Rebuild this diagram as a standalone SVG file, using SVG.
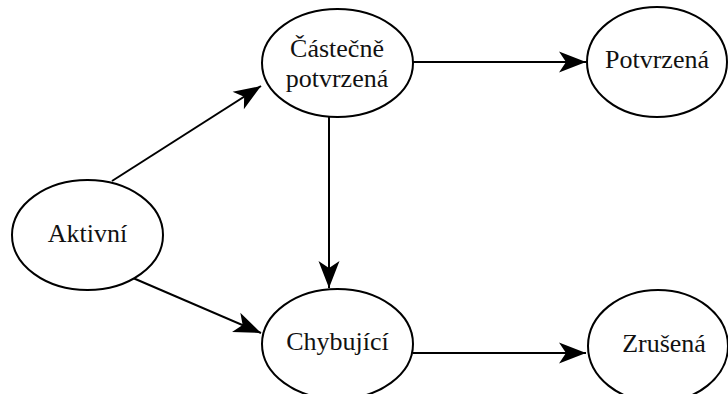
<svg xmlns="http://www.w3.org/2000/svg" width="728" height="394" viewBox="0 0 728 394">
<style>
.node ellipse{fill:#fff;stroke:#000;stroke-width:2}
.node text{font-family:"Liberation Serif","Times New Roman",serif;font-size:26px;fill:#111;text-anchor:middle}
.edge{stroke:#000;stroke-width:2;fill:none;marker-end:url(#arr)}
</style>
<defs>
<marker id="arr" viewBox="-28 -11 29 22" markerWidth="29" markerHeight="22" refX="0" refY="0" orient="auto" markerUnits="userSpaceOnUse">
<path d="M0,0 L-27,-10.5 L-20,0 L-27,10.5 Z" fill="#000"/>
</marker>
</defs>
<rect width="728" height="394" fill="#fff"/>
<g id="connectors">
<line class="edge" x1="112" y1="181" x2="261" y2="86"/>
<line class="edge" x1="133" y1="278" x2="261" y2="333"/>
<line class="edge" x1="329" y1="117" x2="329" y2="288"/>
<line class="edge" x1="413" y1="62" x2="586" y2="62"/>
<line class="edge" x1="413" y1="353" x2="586" y2="353"/>
</g>
<g id="aktivni" class="node">
<ellipse cx="87.5" cy="235" rx="75.5" ry="55"/>
<text x="87.5" y="242">Aktivní</text>
</g>
<g id="castecne" class="node">
<ellipse cx="337.5" cy="63" rx="75.5" ry="54"/>
<text x="337" y="57">Částečně</text>
<text x="337" y="87">potvrzená</text>
</g>
<g id="potvrzena" class="node">
<ellipse cx="657" cy="62" rx="70" ry="55"/>
<text x="657" y="68">Potvrzená</text>
</g>
<g id="chybujici" class="node">
<ellipse cx="337.5" cy="344" rx="75.5" ry="55"/>
<text x="337.5" y="350">Chybující</text>
</g>
<g id="zrusena" class="node">
<ellipse cx="658" cy="346" rx="70" ry="56"/>
<text x="664" y="352">Zrušená</text>
</g>
</svg>
